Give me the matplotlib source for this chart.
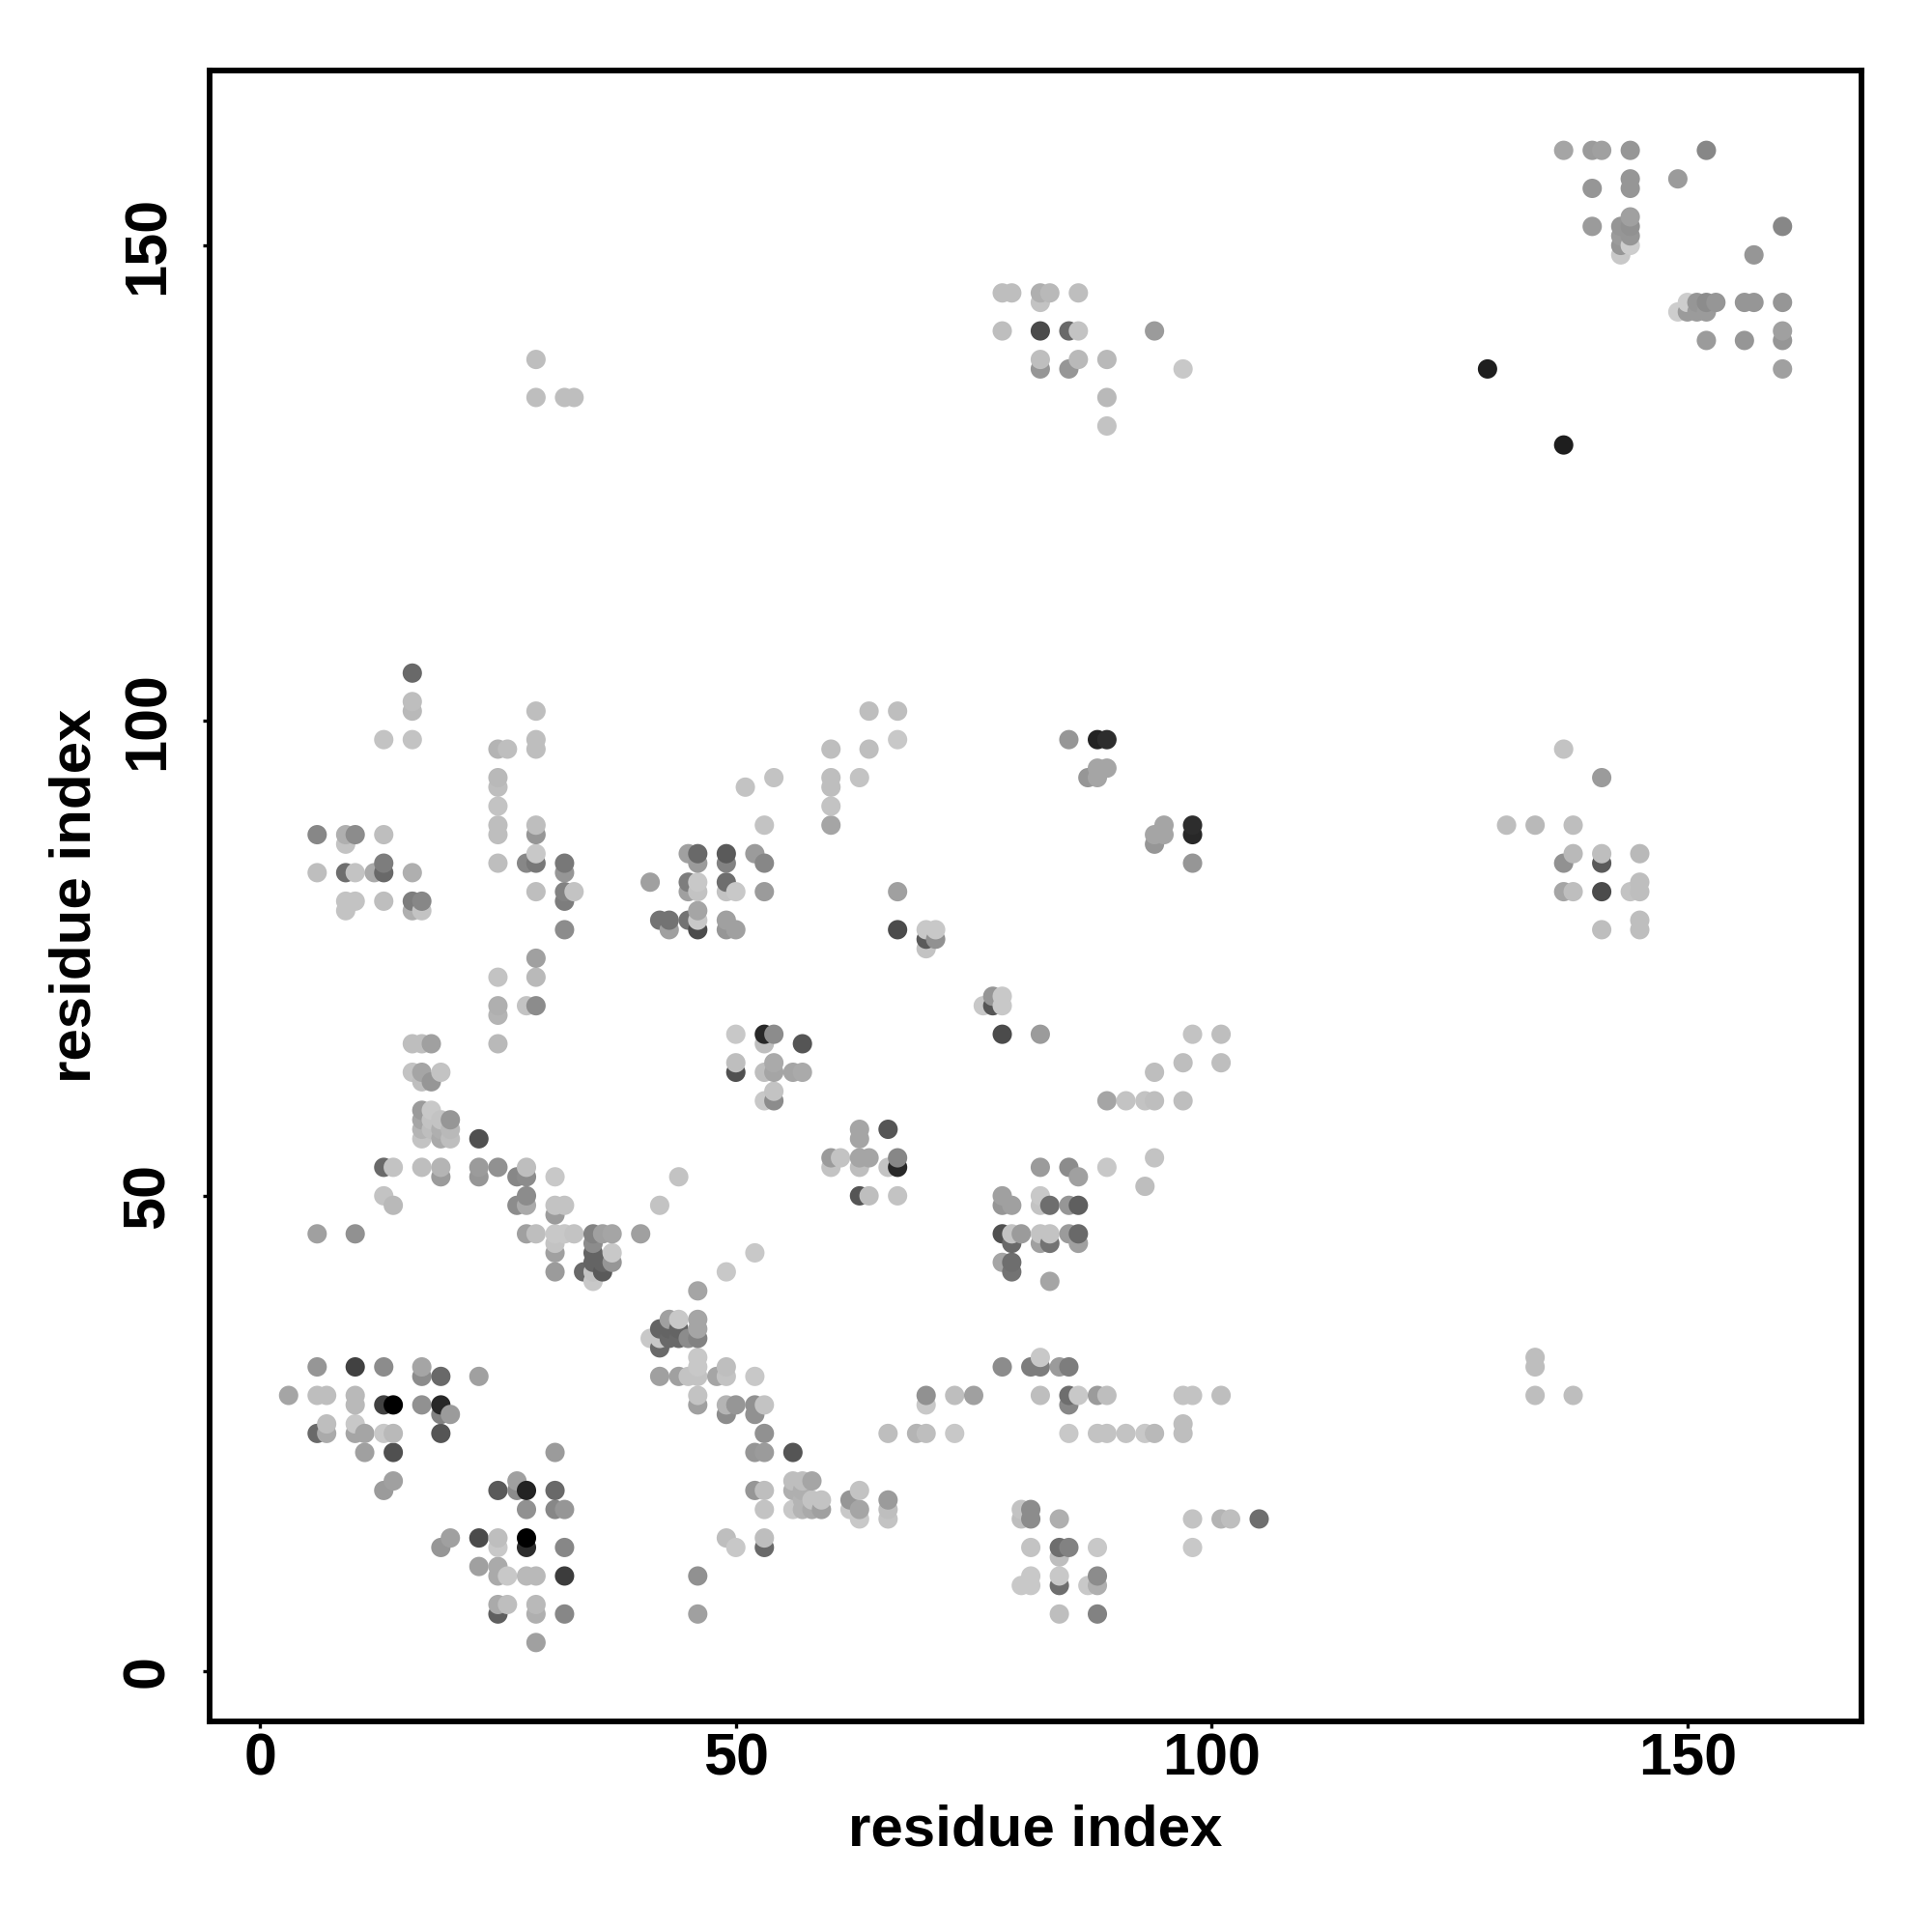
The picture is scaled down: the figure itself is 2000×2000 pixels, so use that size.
import numpy as np
import matplotlib
matplotlib.use('Agg')
import matplotlib.pyplot as plt

plt.rcParams['font.family'] = ['Liberation Sans', 'DejaVu Sans']

# one entry per row of the contact map: y value, the x values on it, their grey level (0-255)
y_rows = [3, 6, 7, 9, 10, 11, 12, 13, 14, 16, 17, 18, 19, 20, 23, 25, 26, 27, 28, 29,
          31, 32, 33, 34, 35, 36, 37, 40, 41, 42, 43, 44, 45, 46, 48, 49, 50, 51, 52, 53,
          54, 56, 57, 58, 59, 60, 61, 62, 63, 64, 66, 67, 69, 70, 71, 73, 75, 76, 77, 78,
          79, 80, 81, 82, 83, 84, 85, 86, 87, 88, 89, 91, 93, 94, 95, 97, 98, 101, 102, 105,
          129, 131, 134, 137, 138, 140, 141, 143, 144, 145, 149, 150, 151, 152, 153, 156, 157, 160]

x_by_row = [
    [29],
    [25, 29, 32, 46, 84, 88],
    [25, 26, 29],
    [80, 81, 84, 87, 88],
    [25, 26, 28, 29, 32, 46, 81, 84, 88],
    [23, 25],
    [84],
    [19, 25, 28, 32, 50, 53, 81, 84, 85, 88, 98],
    [20, 23, 25, 28, 49, 53],
    [63, 66, 80, 81, 84, 98, 101, 102, 105],
    [28, 31, 32, 53, 56, 57, 58, 59, 62, 63, 66, 80, 81],
    [57, 58, 59, 62, 66],
    [13, 25, 27, 28, 31, 52, 53, 56, 57, 63],
    [14, 27, 56, 57, 58],
    [11, 14, 31, 52, 53, 56],
    [6, 7, 10, 11, 13, 14, 19, 53, 66, 69, 70, 73, 85, 88, 89, 91, 93, 94, 97],
    [7, 10, 97],
    [19, 20, 49, 52],
    [10, 13, 14, 17, 19, 46, 49, 50, 52, 53, 70, 85],
    [3, 6, 7, 10, 46, 70, 73, 75, 82, 85, 86, 88, 89, 97, 98, 101, 134, 138],
    [17, 19, 23, 42, 44, 45, 46, 48, 49, 52],
    [6, 10, 13, 17, 46, 49, 78, 81, 82, 84, 85, 134],
    [46, 82, 134],
    [42],
    [41, 42, 43, 44, 45, 46],
    [42, 43, 44, 46],
    [43, 44, 46],
    [46],
    [35, 83],
    [31, 34, 35, 36, 49, 79],
    [35, 36, 37, 78, 79],
    [31, 35, 37, 52],
    [31, 35, 79, 82, 83, 86],
    [6, 10, 28, 29, 31, 32, 33, 35, 36, 37, 40, 78, 79, 80, 82, 83, 85, 86],
    [31],
    [14, 27, 28, 31, 32, 42, 78, 79, 82, 83, 85, 86],
    [13, 28, 63, 64, 67, 78, 82],
    [93],
    [19, 23, 27, 28, 31, 44, 86],
    [13, 14, 17, 19, 23, 25, 28, 60, 63, 66, 67, 82, 85, 89],
    [60, 61, 63, 64, 67, 94],
    [17, 19, 20, 23, 63],
    [17, 18, 19, 20, 63, 66],
    [17, 18, 19, 20],
    [17, 18],
    [53, 54, 89, 91, 93, 94, 97],
    [54],
    [17, 18],
    [16, 17, 19, 50, 53, 54, 56, 57, 94],
    [50, 54, 97, 101],
    [16, 17, 18, 25, 53, 57],
    [50, 53, 54, 78, 82, 98, 101],
    [25],
    [25, 28, 29, 76, 77, 78],
    [77, 78],
    [25, 29],
    [29],
    [70],
    [70, 71],
    [32, 43, 46, 49, 50, 67, 70, 71, 141, 145],
    [42, 43, 45, 46, 49, 145],
    [9, 16, 17, 46],
    [9, 10, 13, 16, 17, 32],
    [29, 32, 33, 45, 46, 49, 50, 53, 67, 137, 138, 141, 144, 145],
    [41, 45, 46, 49, 145],
    [6, 9, 10, 12, 13, 16, 32],
    [13, 25, 28, 29, 32, 46, 49, 53, 98, 137, 141],
    [29, 45, 46, 49, 52, 138, 141, 145],
    [9, 94],
    [6, 9, 10, 13, 25, 29, 94, 95, 98],
    [25, 29, 53, 60, 95, 98, 131, 134, 138],
    [25, 60],
    [25, 51, 60],
    [25, 54, 60, 63, 87, 88, 141],
    [88, 89],
    [25, 26, 29, 60, 64, 137],
    [13, 16, 29, 67, 85, 88, 89],
    [16, 29, 64, 67],
    [16],
    [16],
    [137],
    [89],
    [29, 32, 33, 89],
    [82, 85, 97, 129, 160],
    [29, 82, 86, 89],
    [152, 156, 160],
    [78, 82, 85, 86, 94, 160],
    [149, 150, 151, 152],
    [82, 150, 151, 152, 153, 156, 157, 160],
    [78, 79, 82, 83, 86],
    [143, 157],
    [143, 144],
    [143, 144],
    [140, 143, 144, 160],
    [144],
    [140, 144],
    [144, 149],
    [137, 140, 141, 144, 152],
]

gray_by_row = [
    [160],
    [95, 175, 135, 160, 190, 130],
    [170, 190, 185],
    [200, 200, 110, 200, 175],
    [170, 200, 185, 185, 60, 145, 200, 200, 140],
    [160, 170],
    [190],
    [150, 200, 45, 135, 200, 105, 195, 110, 130, 200, 200],
    [160, 75, 190, 0, 190, 190],
    [200, 195, 190, 140, 175, 195, 180, 190, 110],
    [145, 135, 150, 195, 200, 180, 170, 160, 200, 165, 190, 195, 140],
    [180, 195, 195, 150, 155],
    [155, 90, 140, 35, 105, 150, 190, 175, 175, 195],
    [160, 160, 190, 190, 165],
    [160, 80, 155, 150, 155, 85],
    [105, 170, 165, 165, 200, 185, 85, 145, 190, 180, 190, 200, 200, 195, 195, 195, 200, 185, 190],
    [190, 200, 190],
    [130, 155, 140, 145],
    [185, 65, 0, 145, 40, 160, 180, 150, 145, 195, 200, 135],
    [165, 190, 190, 185, 195, 145, 190, 160, 190, 110, 200, 155, 190, 195, 195, 190, 190, 190],
    [140, 105, 160, 160, 160, 195, 195, 165, 195, 200],
    [150, 65, 140, 165, 200, 190, 140, 125, 125, 155, 125, 190],
    [200, 200, 190],
    [105],
    [200, 200, 105, 105, 140, 130],
    [100, 100, 100, 165],
    [160, 200, 165],
    [165],
    [200, 165],
    [155, 105, 195, 90, 200, 115],
    [100, 100, 150, 165, 110],
    [160, 100, 200, 200],
    [195, 140, 105, 160, 115, 160],
    [160, 145, 160, 190, 200, 200, 195, 130, 160, 165, 160, 80, 195, 155, 195, 195, 155, 105],
    [155],
    [185, 140, 170, 195, 195, 195, 150, 160, 195, 110, 150, 95],
    [195, 140, 85, 190, 195, 160, 200],
    [190],
    [155, 150, 135, 140, 200, 195, 160],
    [105, 195, 190, 180, 155, 145, 190, 195, 190, 195, 40, 155, 140, 200],
    [155, 195, 165, 165, 135, 195],
    [195, 170, 190, 80, 165],
    [180, 190, 175, 185, 165, 85],
    [165, 195, 195, 150],
    [155, 200],
    [200, 140, 165, 195, 195, 190, 190],
    [195],
    [190, 150],
    [195, 165, 195, 80, 190, 165, 165, 170, 190],
    [190, 170, 190, 190],
    [190, 190, 160, 185, 190, 85],
    [200, 40, 140, 75, 155, 195, 190],
    [180],
    [175, 195, 140, 200, 85, 200],
    [150, 200],
    [195, 185],
    [160],
    [195],
    [90, 145],
    [140, 160, 75, 150, 160, 75, 200, 200, 190, 190],
    [115, 115, 115, 200, 160, 190],
    [195, 175, 195, 165],
    [195, 195, 190, 125, 135, 125],
    [190, 130, 195, 160, 195, 195, 200, 155, 160, 165, 190, 75, 195, 190],
    [160, 125, 200, 110, 190],
    [190, 110, 195, 170, 105, 175, 150],
    [125, 190, 135, 120, 120, 155, 130, 135, 150, 145, 90],
    [200, 160, 105, 90, 155, 185, 190, 185],
    [195, 150],
    [135, 175, 140, 190, 190, 150, 165, 165, 40],
    [190, 190, 195, 165, 165, 45, 190, 185, 190],
    [195, 195],
    [190, 195, 190],
    [185, 195, 190, 195, 150, 165, 155],
    [165, 165],
    [180, 190, 190, 190, 190, 195],
    [195, 195, 190, 200, 150, 35, 45],
    [185, 190, 190, 190],
    [190],
    [105],
    [30],
    [195],
    [190, 190, 190, 185],
    [150, 150, 200, 30, 160],
    [190, 190, 185, 185],
    [155, 150, 150],
    [190, 75, 105, 195, 155, 160],
    [205, 155, 155, 155],
    [195, 205, 150, 140, 150, 150, 150, 150],
    [190, 190, 175, 185, 190],
    [200, 150],
    [150, 205],
    [155, 150],
    [155, 150, 145, 135],
    [160],
    [150, 150],
    [150, 155],
    [165, 155, 160, 150, 135],
]

tick_vals = [0, 50, 100, 150]
axis_label = 'residue index'

x = np.concatenate([np.array(r, dtype=float) for r in x_by_row])
y = np.concatenate([np.full(len(r), v, dtype=float) for r, v in zip(x_by_row, y_rows)])
g = np.concatenate([np.array(r, dtype=float) for r in gray_by_row])

# later residues sit on top in the original
order = np.lexsort((y, x))
x, y, g = x[order], y[order], g[order]

fig = plt.figure(figsize=(10, 10), dpi=200)
ax = fig.add_axes([217 / 2000, 1 - 1782 / 2000, 1710 / 2000, 1709 / 2000])
ax.scatter(x, y, s=52, c=[(v / 255, v / 255, v / 255) for v in g], linewidths=0, zorder=3)

ax.set_xlim(-5.3, 168.3)
ax.set_ylim(-5.3, 168.4)
ax.set_xticks(tick_vals)
ax.set_yticks(tick_vals)
ax.set_xticklabels([str(t) for t in tick_vals], fontsize=22, fontweight='bold')
ax.set_yticklabels([str(t) for t in tick_vals], fontsize=22, fontweight='bold',
                   rotation=90, va='center')
ax.tick_params(axis='x', length=2.5, width=1.2, pad=1.8)
ax.tick_params(axis='y', length=2.5, width=1.2, pad=10)
for s in ax.spines.values():
    s.set_linewidth(2.1)

ax.set_xlabel(axis_label, fontsize=21.6, fontweight='bold', labelpad=6)
ax.set_ylabel(axis_label, fontsize=21.6, fontweight='bold', labelpad=7)

fig.savefig('out.png', dpi=200)
